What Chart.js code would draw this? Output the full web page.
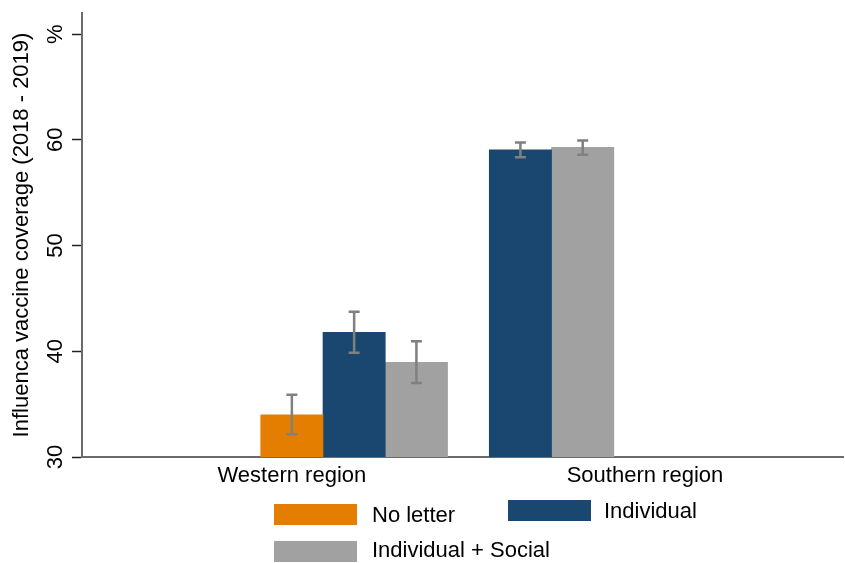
<!DOCTYPE html>
<html>
<head>
<meta charset="utf-8">
<title>Influenza vaccine coverage by region</title>
<script src="https://cdn.jsdelivr.net/npm/chart.js@4.4.1/dist/chart.umd.min.js"></script>
<style>
  html, body { margin: 0; padding: 0; background: #fff; }
  #wrap { width: 845px; height: 563px; position: relative; }
</style>
</head>
<body>
<div id="wrap"><canvas id="barChart"></canvas></div>
<script>
// regions on the x axis and the three letter arms
const regions = ["Western region", "Southern region"];
const arms = ["No letter", "Individual", "Individual + Social"];

// coverage in %, null where the arm was not run in that region
const noLetter = [34.0, null];
const individual = [41.8, 59.05];
const social = [38.95, 59.3];

// confidence interval ends
const noLetterLow = [32.15, null];
const noLetterHigh = [35.9, null];
const individualLow = [39.85, 58.35];
const individualHigh = [43.75, 59.75];
const socialLow = [37.0, 58.6];
const socialHigh = [40.95, 59.95];

const yTicks = [30, 40, 50, 60, 70];
const yTickLabels = ["30", "40", "50", "60", "%"];

const armValues = [noLetter, individual, social];
const armLow = [noLetterLow, individualLow, socialLow];
const armHigh = [noLetterHigh, individualHigh, socialHigh];
const armColors = ["#e37e00", "#1a476f", "#a1a1a1"];

// Stata-like layout: bars touch inside a region, missing arms are dropped,
// regions are separated by 2/3 of a bar
const groupGap = 0.67;
const slots = armValues.map(() => []);
let cursor = 1;
regions.forEach((r, g) => {
    armValues.forEach((vals, s) => {
        if (vals[g] !== null) {
            slots[s][g] = cursor;
            cursor += 1;
        } else {
            slots[s][g] = null;
        }
    });
    cursor += groupGap;
});

// where the region names sit (the original does not centre them on the bars)
const regionLabelAt = [1, 6.67];

const datasets = arms.map((name, s) => ({
    label: name,
    data: regions
        .map((r, g) => ({ x: slots[s][g], y: armValues[s][g], lo: armLow[s][g], hi: armHigh[s][g] }))
        .filter(p => p.y !== null),
    backgroundColor: armColors[s],
    borderWidth: 0,
    grouped: false,
    barPercentage: 1,
    categoryPercentage: 1
}));

// whiskers drawn on top of the bars
const errorBars = {
    id: "errorBars",
    afterDatasetsDraw(chart) {
        const ctx = chart.ctx;
        const yScale = chart.scales.y;
        const cap = 5.5;
        ctx.save();
        ctx.strokeStyle = "#808080";
        ctx.lineWidth = 2.5;
        chart.data.datasets.forEach((ds, i) => {
            const meta = chart.getDatasetMeta(i);
            meta.data.forEach((bar, j) => {
                const p = ds.data[j];
                const top = yScale.getPixelForValue(p.hi);
                const bot = yScale.getPixelForValue(p.lo);
                ctx.beginPath();
                ctx.moveTo(bar.x, top);
                ctx.lineTo(bar.x, bot);
                ctx.moveTo(bar.x - cap, top);
                ctx.lineTo(bar.x + cap, top);
                ctx.moveTo(bar.x - cap, bot);
                ctx.lineTo(bar.x + cap, bot);
                ctx.stroke();
            });
        });
        ctx.restore();
    }
};

// two-column legend under the axis, like the Stata one
const boxLegend = {
    id: "boxLegend",
    afterDraw(chart) {
        const ctx = chart.ctx;
        const spots = [
            { bx: 274, by: 504, tx: 372, ty: 516 },
            { bx: 508, by: 500, tx: 604, ty: 512 },
            { bx: 274, by: 541, tx: 372, ty: 551 }
        ];
        ctx.save();
        ctx.font = "22px 'Liberation Sans', Arial, sans-serif";
        ctx.textBaseline = "middle";
        ctx.textAlign = "left";
        chart.data.datasets.forEach((ds, i) => {
            const s = spots[i];
            ctx.fillStyle = ds.backgroundColor;
            ctx.fillRect(s.bx, s.by, 83, 21);
            ctx.fillStyle = "#000";
            ctx.fillText(ds.label, s.tx, s.ty);
        });
        ctx.restore();
    }
};

Chart.defaults.font.family = "'Liberation Sans', Arial, sans-serif";
Chart.defaults.font.size = 22;
Chart.defaults.color = "#000";

const canvas = document.getElementById("barChart");
new Chart(canvas.getContext("2d"), {
    type: "bar",
    data: { datasets: datasets },
    options: {
        responsive: true,
        maintainAspectRatio: false,
        animation: false,
        layout: { padding: { top: 13, right: 2, bottom: 0, left: 0 } },
        plugins: {
            legend: { display: false },
            tooltip: { enabled: false }
        },
        scales: {
            x: {
                type: "linear",
                min: -2.37,
                max: 9.85,
                offset: false,
                grid: { display: false, drawTicks: false },
                border: { display: true, color: "#6b6b6b", width: 2 },
                afterBuildTicks: scale => { scale.ticks = regionLabelAt.map(v => ({ value: v })); },
                ticks: {
                    callback: (v, i) => regions[i],
                    padding: 6,
                    maxRotation: 0,
                    autoSkip: false
                },
                afterFit: scale => {
                    scale.height = 106;
                    scale.paddingLeft = 0;
                    scale.paddingRight = 0;
                }
            },
            y: {
                type: "linear",
                min: 30,
                max: 72,
                beginAtZero: false,
                afterBuildTicks: scale => { scale.ticks = yTicks.map(v => ({ value: v })); },
                ticks: {
                    callback: v => yTickLabels[yTicks.indexOf(v)],
                    minRotation: 90,
                    maxRotation: 90,
                    crossAlign: "center",
                    padding: 4
                },
                grid: { drawOnChartArea: false, drawTicks: true, tickLength: 10, tickColor: "#222", tickWidth: 1.5 },
                border: { display: true, color: "#6b6b6b", width: 2 },
                title: {
                    display: true,
                    text: "Influenca vaccine coverage (2018 - 2019)",
                    padding: { top: 9, bottom: 0 }
                },
                afterFit: scale => {
                    scale.width = 82;
                    scale.paddingTop = 0;
                    scale.paddingBottom = 0;
                }
            }
        }
    },
    plugins: [errorBars, boxLegend]
});
</script>
</body>
</html>
